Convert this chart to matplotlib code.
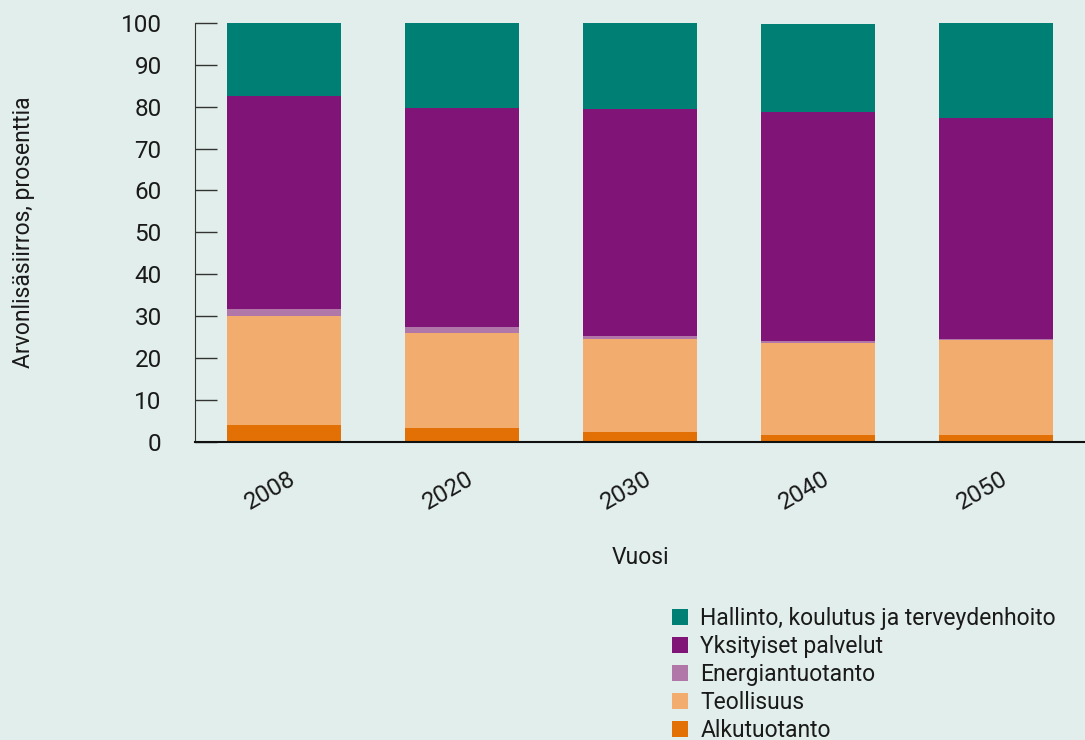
import numpy as np
import matplotlib.pyplot as plt
import matplotlib.transforms as mtransforms

years = ['2008', '2020', '2030', '2040', '2050']
alkutuotanto = [4.0, 3.3, 2.3, 1.6, 1.6]
teollisuus = [26.0, 22.6, 22.2, 22.0, 22.7]
energiantuotanto = [1.7, 1.5, 0.7, 0.4, 0.2]
yksityiset = [50.8, 52.2, 54.2, 54.7, 52.7]
hallinto = [17.5, 20.4, 20.6, 21.0, 22.8]

series = [
	('Alkutuotanto', alkutuotanto, '#e37005'),
	('Teollisuus', teollisuus, '#f2ac6e'),
	('Energiantuotanto', energiantuotanto, '#b077a8'),
	('Yksityiset palvelut', yksityiset, '#801477'),
	('Hallinto, koulutus ja terveydenhoito', hallinto, '#008075'),
]

def main():
	bg = '#e2eeeb'
	txt = '#1a1a1a'
	plt.rcParams['font.family'] = ['Roboto', 'DejaVu Sans']
	fig = plt.figure(figsize=(10.85, 7.4), dpi=100, facecolor=bg)
	ax = fig.add_axes([0.1797, 0.403, 0.8203, 0.566])
	ax.set_facecolor(bg)

	x = np.arange(len(years))
	bottom = np.zeros(len(years))
	handles = []
	for name, vals, col in series:
		b = ax.bar(x, vals, 0.645, bottom=bottom, color=col, label=name)
		bottom += np.array(vals)
		handles.append(b)

	ax.set_xlim(-0.5, 4.5)
	ax.set_ylim(0, 100)
	ax.set_yticks(range(0, 101, 10))
	ax.tick_params(axis='y', direction='in', length=16, width=1, color='#333333',
		labelsize=17.5, labelcolor=txt, pad=24)
	ax.tick_params(axis='x', length=0, labelsize=17.5, labelcolor=txt, pad=18)
	ax.set_xticks(x)
	ax.set_xticklabels(years, rotation=30, ha='right', rotation_mode='anchor')
	shift = mtransforms.ScaledTranslation(4/100, 0, fig.dpi_scale_trans)
	for lab in ax.get_xticklabels():
		lab.set_transform(lab.get_transform() + shift)
	for s in ['top', 'right']:
		ax.spines[s].set_visible(False)
	ax.spines['left'].set_color('#333333')
	ax.spines['bottom'].set_color('#111111')
	ax.spines['bottom'].set_linewidth(1.5)

	ax.set_xlabel('Vuosi', fontsize=16.5, color=txt, labelpad=23)
	ax.set_ylabel('Arvonlisäsiirros, prosenttia', fontsize=16.5, color=txt, labelpad=62)

	leg = fig.legend(handles[::-1], [s[0] for s in series][::-1],
		loc='upper left', bbox_to_anchor=(0.619, 0.180), frameon=False,
		fontsize=16.5, handlelength=0.7, handleheight=0.7, handletextpad=0.55,
		labelspacing=0.22, borderaxespad=0, borderpad=0)
	for t in leg.get_texts():
		t.set_color(txt)

	fig.savefig('out.png', dpi=100, facecolor=bg)

if __name__ == '__main__':
	main()
